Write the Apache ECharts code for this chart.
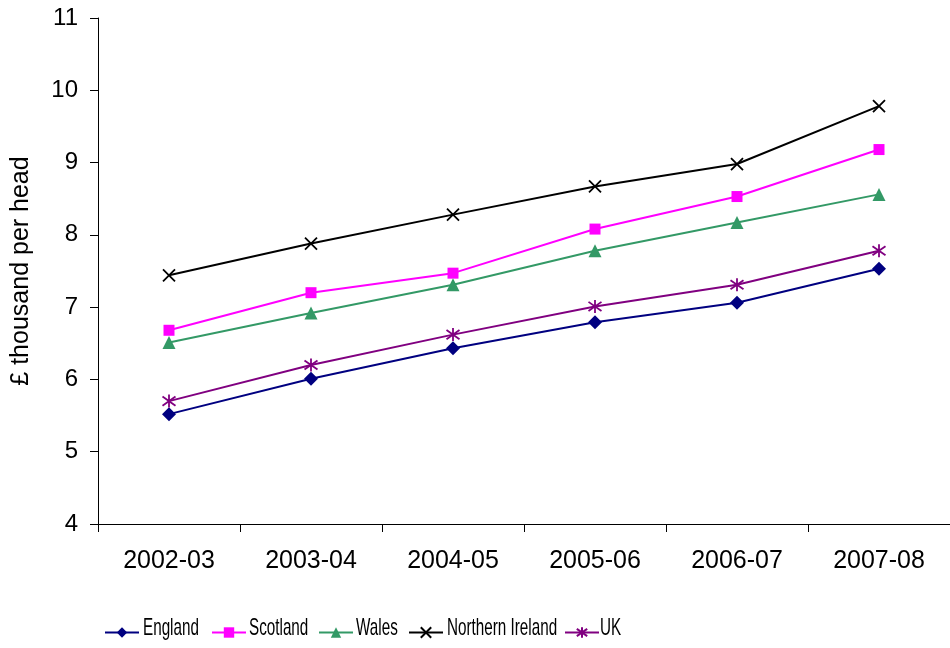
<!DOCTYPE html>
<html><head><meta charset="utf-8">
<script src="https://cdn.jsdelivr.net/npm/echarts@6/dist/echarts.min.js"></script>
<style>html,body{margin:0;padding:0;background:#fff}#c{width:950px;height:648px}</style>
</head><body><div id="c"></div>
<script>
const categories = ['2002-03','2003-04','2004-05','2005-06','2006-07','2007-08'];
const england = [5.52, 6.01, 6.43, 6.79, 7.06, 7.53];
const scotland = [6.68, 7.20, 7.47, 8.08, 8.53, 9.18];
const wales = [6.51, 6.92, 7.31, 7.78, 8.17, 8.56];
const northernIreland = [7.44, 7.88, 8.28, 8.67, 8.98, 9.78];
const uk = [5.70, 6.20, 6.62, 7.01, 7.31, 7.78];
const yTicks = [4,5,6,7,8,9,10,11];
const seriesNames = ['England','Scotland','Wales','Northern Ireland','UK'];

const font = 'Liberation Sans, Arial, sans-serif';
const chart = echarts.init(document.getElementById('c'));
const crossPath = 'path://M0,0L10,10M10,0L0,10';
const starPath = 'path://M5,0L5,10M0,1.5L10,8.5M0,8.5L10,1.5';
function mk(name, data, color, symbol, size, stroke){
  const s = {name, type:'line', data, symbol, symbolSize:size,
    lineStyle:{color, width:2}, itemStyle:{color}, emphasis:{disabled:true}, animation:false};
  if (stroke){ s.itemStyle = {color:'rgba(0,0,0,0)', borderColor:color, borderWidth:1.8}; }
  return s;
}
const legendLefts = [104, 211, 318, 408, 564];
const legendTextX = [143, 249, 356, 447, 600];
const legends = seriesNames.map((n,i)=>({
  left:legendLefts[i], top:626, itemWidth:34, itemHeight:13, padding:0,
  formatter:()=>'', textStyle:{fontSize:13, color:'#000'}, data:[n]
}));
const legendTexts = seriesNames.map((n,i)=>({
  type:'text', x:legendTextX[i], y:628.5, scaleX:0.635, silent:true,
  style:{text:n, fontFamily:font, fontSize:24, fill:'#000', verticalAlign:'middle', align:'left'}
}));
chart.setOption({
  animation:false,
  grid:{left:98, top:18, width:862, bottom:124, containLabel:false},
  legend:legends,
  graphic:legendTexts,
  xAxis:{type:'category', data:categories, boundaryGap:true,
    axisLine:{lineStyle:{color:'#000', width:1}},
    axisTick:{show:true, length:8, alignWithLabel:false, lineStyle:{color:'#000'}},
    axisLabel:{fontFamily:font, fontSize:25, color:'#000', margin:25}},
  yAxis:{type:'value', min:yTicks[0], max:yTicks[yTicks.length-1], interval:1,
    name:'£ thousand per head', nameLocation:'middle', nameRotate:90, nameGap:64,
    nameTextStyle:{fontFamily:font, fontSize:25, color:'#000'},
    splitLine:{show:false},
    axisLine:{show:true, lineStyle:{color:'#000', width:1}},
    axisTick:{show:true, length:8, lineStyle:{color:'#000'}},
    axisLabel:{fontFamily:font, fontSize:24, color:'#000', margin:20}},
  series:[
    mk('England', england, '#000080', 'diamond', 14),
    mk('Scotland', scotland, '#FF00FF', 'rect', 11),
    mk('Wales', wales, '#339966', 'triangle', 13),
    mk('Northern Ireland', northernIreland, '#000000', crossPath, 12, true),
    mk('UK', uk, '#800080', starPath, 13, true)
  ]
});
</script></body></html>
